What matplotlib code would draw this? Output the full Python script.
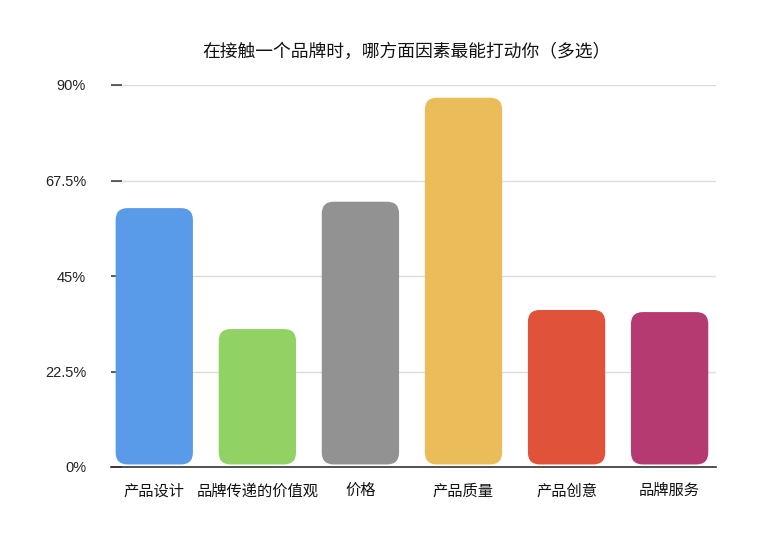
import matplotlib.pyplot as plt
from matplotlib.patches import FancyBboxPatch

plt.rcParams['font.family'] = ['Noto Sans CJK SC', 'DejaVu Sans']

categories = ['产品设计', '品牌传递的价值观', '价格', '产品质量', '产品创意', '品牌服务']
values = [61, 32.5, 62.5, 87, 37, 36.5]
colors = ['#5a9be9', '#92d265', '#929292', '#ebbd5a', '#e0533a', '#b63a72']
yticks = [0, 22.5, 45, 67.5, 90]
yticklabels = ['0%', '22.5%', '45%', '67.5%', '90%']

fig = plt.figure(figsize=(7.72, 5.35), dpi=100)
ax = fig.add_axes([111 / 772, 1 - 467 / 535, (716 - 111) / 772, (467 - 85) / 535])

x = range(len(categories))
bars = ax.bar(x, values, width=0.75, color=colors)
ax.set_xlim(-0.42, 5.45)
ax.set_ylim(0, 90)

# rounded bars: swap each rectangle for a rounded box of the same extent
bb = ax.get_window_extent()
xunit = (ax.get_xlim()[1] - ax.get_xlim()[0]) / bb.width
yunit = 90 / bb.height
for b, c in zip(bars, colors):
    x0, w, h = b.get_x(), b.get_width(), b.get_height()
    b.set_visible(False)
    r = 12 * xunit
    ax.add_patch(FancyBboxPatch((x0, 0.6), w, h - 0.6,
                                boxstyle=f'round,pad=0,rounding_size={r}',
                                mutation_aspect=yunit / xunit,
                                facecolor=c, edgecolor='none', zorder=2))

ax.set_yticks(yticks)
ax.set_yticklabels(yticklabels, fontsize=10.5, color='#222222', family='Liberation Sans')
ax.set_xticks(list(x))
ax.set_xticklabels(categories, fontsize=11, color='#111111')
ax.tick_params(axis='y', direction='in', length=8, width=1.2, color='#444444', pad=18)
ax.tick_params(axis='x', length=0, pad=11)
ax.yaxis.grid(True, color='#dcdcdc', linewidth=1)
ax.set_axisbelow(True)
for s in ['top', 'right', 'left']:
    ax.spines[s].set_visible(False)
ax.spines['bottom'].set_color('#333333')
ax.spines['bottom'].set_linewidth(1.2)
ax.spines['bottom'].set_zorder(3)

fig.text(406 / 772, 1 - 52 / 535, '在接触一个品牌时，哪方面因素最能打动你（多选）',
         ha='center', va='center', fontsize=12.8, color='#111111')

fig.savefig('out.png', dpi=100)
